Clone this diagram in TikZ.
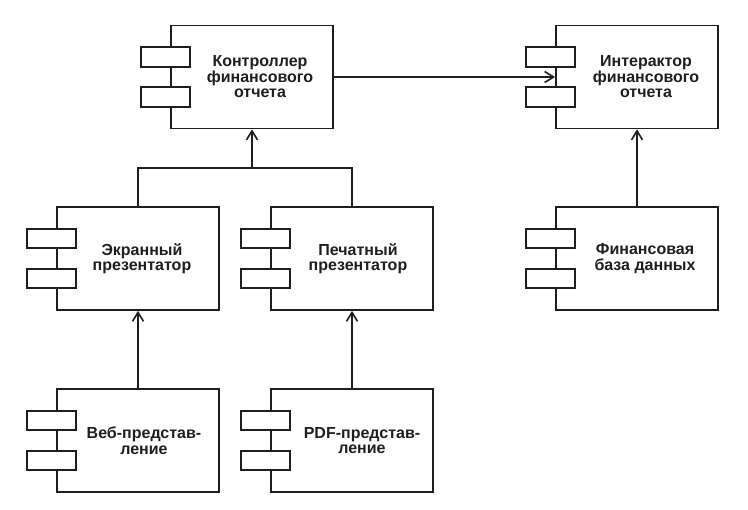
\documentclass[tikz,border=0pt]{standalone}
\usepackage{fontspec}
\setmainfont{Liberation Sans}
\usetikzlibrary{arrows.meta}
\definecolor{ink}{HTML}{1E1E1E}
\tikzset{
  compbox/.style={draw=ink, line width=1.7pt, minimum width=162pt, minimum height=103pt, inner sep=0pt},
  tabbox/.style={draw=ink, fill=white, line width=1.7pt, minimum width=49pt, minimum height=19.5pt, inner sep=0pt},
  label/.style={text=ink, font=\bfseries\fontsize{16}{15.5}\selectfont, align=center, inner sep=0pt},
  conn/.style={draw=ink, line width=1.7pt},
  dep/.style={conn, -{Straight Barb[length=9pt,width=11pt,line width=1.6pt]}}
}
\newcommand\compo[5]{%
  \node[compbox] (#1) at (#2,#3) {};
  \node[tabbox] (#1t1) at ([xshift=-4.5pt,yshift=20pt]#1.west) {};
  \node[tabbox] (#1t2) at ([xshift=-4.5pt,yshift=-20pt]#1.west) {};
  \node[label] (#1l) at ([xshift=#5pt]#1.center) {#4};
}
\begin{document}
\begin{tikzpicture}[x=1pt,y=-1pt]
\useasboundingbox (0,0) rectangle (748,510);
\compo{ctrl}{252}{77}{Контроллер\\финансового\\отчета}{8}
\compo{inter}{637}{77}{Интерактор\\финансового\\отчета}{9}
\compo{screen}{138}{258.5}{Экранный\\презентатор}{4}
\compo{print}{352}{258.5}{Печатный\\презентатор}{6}
\compo{db}{637}{258.5}{Финансовая\\база данных}{8}
\compo{web}{138}{440.5}{Веб-представ-\\ление}{6}
\compo{pdf}{352}{440.5}{PDF-представ-\\ление}{10}
\coordinate (j) at (252,168);
\draw[dep] (ctrl.east) -- (inter.west);
\draw[conn] (screen.north) -- (screen.north |- j) -- (print.north |- j) -- (print.north);
\draw[dep] (j) -- (ctrl.south);
\draw[dep] (db.north) -- (inter.south);
\draw[dep] (web.north) -- (screen.south);
\draw[dep] (pdf.north) -- (print.south);
\end{tikzpicture}
\end{document}
